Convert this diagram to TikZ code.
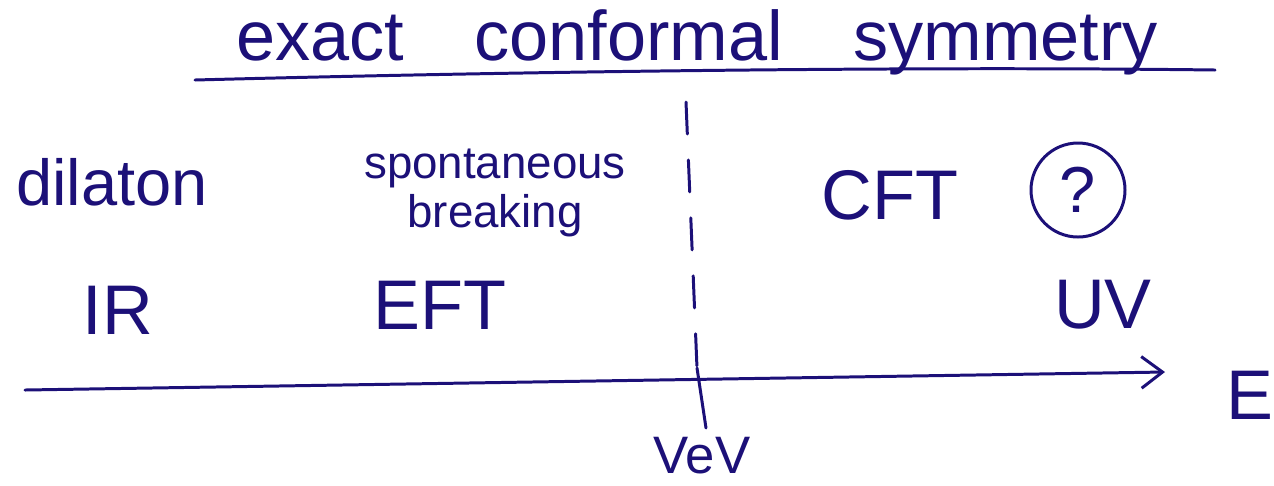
\documentclass[tikz,border=0pt]{standalone}
\usepackage{fontspec}
\setmainfont{Liberation Sans}
\usetikzlibrary{arrows.meta}
\definecolor{ink}{RGB}{28,16,120}
\begin{document}
\begin{tikzpicture}[x=0.02cm,y=-0.02cm,
  ink line/.style={draw=ink,line width=1.7pt,line cap=round},
  lbl/.style={text=ink,inner sep=0pt,anchor=center},
  big/.style={font=\fontsize{40}{44}\selectfont},
  mid/.style={font=\fontsize{37}{40}\selectfont},
  small/.style={font=\fontsize{26}{28}\selectfont}]
\useasboundingbox (0,0) rectangle (1274,485);
% title
\node[lbl,big] (title) at (697,42) {exact\quad conformal\quad symmetry};
\coordinate (ulA) at (195,80);
\coordinate (ulB) at (1215,70);
\draw[ink line] (ulA) .. controls (500,72) and (900,66) .. (ulB);
% labels
\node[lbl,mid] (dilaton) at (112,182) {dilaton};
\node[lbl,small,align=center] (sb) at (495,193) {spontaneous\\breaking};
\node[lbl,big] (cft) at (890,195) {CFT};
\node[lbl,mid,draw=ink,line width=1.7pt,circle,minimum size=94*0.02cm] (q) at (1078,190) {?};
\node[lbl,big] (ir) at (118,310) {IR};
\node[lbl,big] (eft) at (440,305) {EFT};
\node[lbl,big] (uv) at (1103,305) {UV};
\node[lbl,big] (E) at (1250,395) {E};
\node[lbl,font=\fontsize{30}{32}\selectfont] (vev) at (702,456) {VeV};
% axis
\coordinate (ax0) at (25,390);
\coordinate (ax1) at (1165,372);
\draw[ink line,-{Straight Barb[length=12pt,width=18pt,line width=1.7pt]}] (ax0) -- (ax1);
% vev line
\coordinate (v0) at (686,102);
\coordinate (v1) at (697,368);
\coordinate (v2) at (706,428);
\draw[ink line,dash pattern=on 32*0.02cm off 26*0.02cm] (v0) -- (v1);
\draw[ink line] (v1) -- (v2);
\end{tikzpicture}
\end{document}
